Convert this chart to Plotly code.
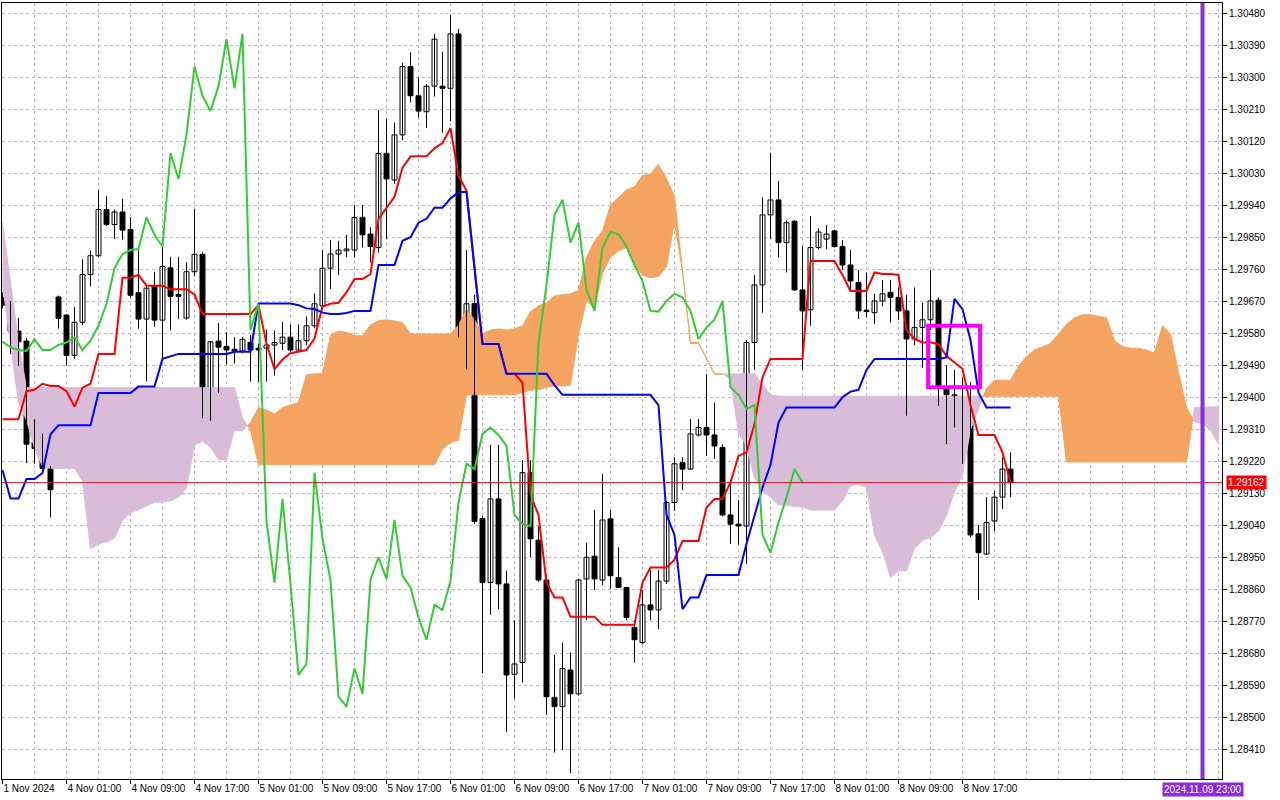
"""
GBPUSD H1, 1-8 Nov 2024 with Ichimoku Kinko Hyo (9, 26, 52), MT5 style.
"""
import plotly.graph_objects as go

# candles, bar 0 = 1 Nov 17:00 ... bar 126 = 8 Nov 23:00
opens = [1.29683, 1.29663, 1.29588, 1.29560, 1.29276, 1.29258, 1.29202, 1.29684, 1.29633, 1.29520,
         1.29613, 1.29747, 1.29800, 1.29930, 1.29888, 1.29923, 1.29874, 1.29696, 1.29622, 1.29714,
         1.29619, 1.29766, 1.29691, 1.29625, 1.29755, 1.29804, 1.29409, 1.29560, 1.29545, 1.29537,
         1.29532, 1.29556, 1.29540, 1.29540, 1.29549, 1.29554, 1.29571, 1.29535, 1.29561, 1.29603,
         1.29659, 1.29765, 1.29805, 1.29814, 1.29816, 1.29908, 1.29861, 1.29823, 1.30088, 1.30013,
         1.30140, 1.30332, 1.30250, 1.30205, 1.30277, 1.30277, 1.30271, 1.30424, 1.29598, 1.29666,
         1.29061, 1.28881, 1.29116, 1.28877, 1.28623, 1.28656, 1.29190, 1.29000, 1.28888, 1.28558,
         1.28532, 1.28635, 1.28568, 1.28891, 1.28955, 1.28888, 1.29060, 1.28895, 1.28867, 1.28755,
         1.28712, 1.28818, 1.28804, 1.28885, 1.29106, 1.29218, 1.29200, 1.29296, 1.29317, 1.29296,
         1.29261, 1.29071, 1.29045, 1.29040, 1.29556, 1.29718, 1.29915, 1.29957, 1.29837, 1.29897,
         1.29704, 1.29648, 1.29823, 1.29847, 1.29870, 1.29826, 1.29774, 1.29725, 1.29647, 1.29640,
         1.29673, 1.29697, 1.29683, 1.29645, 1.29566, 1.29598, 1.29620, 1.29675, 1.29430, 1.29409,
         1.29369, 1.29378, 1.29018, 1.28961, 1.29054, 1.29121, 1.29200]
highs = [1.29697, 1.29673, 1.29625, 1.29569, 1.29340, 1.29300, 1.29209, 1.29688, 1.29636, 1.29656,
         1.29790, 1.29815, 1.29985, 1.29968, 1.29930, 1.29960, 1.29909, 1.29815, 1.29714, 1.29755,
         1.29824, 1.29797, 1.29797, 1.29782, 1.29931, 1.29809, 1.29560, 1.29611, 1.29585, 1.29571,
         1.29571, 1.29577, 1.29553, 1.29592, 1.29589, 1.29614, 1.29607, 1.29607, 1.29629, 1.29694,
         1.29816, 1.29844, 1.29842, 1.29859, 1.29943, 1.29943, 1.29880, 1.30210, 1.30185, 1.30175,
         1.30343, 1.30372, 1.30302, 1.30283, 1.30424, 1.30374, 1.30477, 1.30438, 1.29816, 1.29690,
         1.29067, 1.29268, 1.29268, 1.28914, 1.28775, 1.29225, 1.29225, 1.29040, 1.28902, 1.28677,
         1.28712, 1.28684, 1.28892, 1.28993, 1.29085, 1.29186, 1.29085, 1.28980, 1.28869, 1.28775,
         1.28860, 1.28916, 1.28916, 1.29110, 1.29233, 1.29233, 1.29341, 1.29341, 1.29468, 1.29387,
         1.29270, 1.29170, 1.29113, 1.29563, 1.29746, 1.29964, 1.30090, 1.30010, 1.29900, 1.29900,
         1.29828, 1.29912, 1.29877, 1.29887, 1.29873, 1.29844, 1.29816, 1.29760, 1.29753, 1.29693,
         1.29732, 1.29732, 1.29711, 1.29690, 1.29711, 1.29668, 1.29760, 1.29683, 1.29493, 1.29479,
         1.29458, 1.29445, 1.29043, 1.29121, 1.29139, 1.29233, 1.29247]
lows = [1.29652, 1.29524, 1.29490, 1.29217, 1.29215, 1.29187, 1.29064, 1.29595, 1.29491, 1.29510,
        1.29605, 1.29714, 1.29796, 1.29884, 1.29847, 1.29845, 1.29683, 1.29595, 1.29447, 1.29600,
        1.29510, 1.29590, 1.29622, 1.29620, 1.29742, 1.29343, 1.29336, 1.29414, 1.29494, 1.29497,
        1.29526, 1.29446, 1.29445, 1.29446, 1.29463, 1.29535, 1.29530, 1.29530, 1.29549, 1.29596,
        1.29648, 1.29707, 1.29746, 1.29796, 1.29795, 1.29823, 1.29781, 1.29809, 1.29847, 1.30002,
        1.30125, 1.30231, 1.30189, 1.30159, 1.30248, 1.30146, 1.30178, 1.29571, 1.29481, 1.29045,
        1.28626, 1.28790, 1.28806, 1.28460, 1.28554, 1.28600, 1.28952, 1.28883, 1.28509, 1.28403,
        1.28410, 1.28345, 1.28563, 1.28775, 1.28860, 1.28874, 1.28863, 1.28865, 1.28775, 1.28656,
        1.28707, 1.28775, 1.28750, 1.28877, 1.29082, 1.29141, 1.29198, 1.29292, 1.29237, 1.29229,
        1.29067, 1.28990, 1.28987, 1.28933, 1.29479, 1.29640, 1.29847, 1.29795, 1.29753, 1.29702,
        1.29479, 1.29603, 1.29818, 1.29818, 1.29823, 1.29760, 1.29704, 1.29622, 1.29627, 1.29608,
        1.29658, 1.29612, 1.29620, 1.29350, 1.29549, 1.29485, 1.29591, 1.29378, 1.29270, 1.29317,
        1.29215, 1.29008, 1.28832, 1.28959, 1.29026, 1.29088, 1.29121]
closes = [1.29661, 1.29588, 1.29558, 1.29270, 1.29258, 1.29202, 1.29142, 1.29624, 1.29520, 1.29613,
          1.29747, 1.29800, 1.29930, 1.29888, 1.29923, 1.29872, 1.29689, 1.29622, 1.29709, 1.29619,
          1.29770, 1.29686, 1.29686, 1.29755, 1.29804, 1.29409, 1.29558, 1.29543, 1.29535, 1.29532,
          1.29565, 1.29535, 1.29535, 1.29549, 1.29556, 1.29571, 1.29535, 1.29561, 1.29603, 1.29665,
          1.29765, 1.29805, 1.29816, 1.29819, 1.29908, 1.29859, 1.29826, 1.30088, 1.30016, 1.30140,
          1.30332, 1.30250, 1.30207, 1.30277, 1.30409, 1.30271, 1.30424, 1.29591, 1.29665, 1.29053,
          1.28881, 1.29116, 1.28877, 1.28621, 1.28652, 1.29190, 1.29004, 1.28888, 1.28560, 1.28532,
          1.28639, 1.28568, 1.28888, 1.28952, 1.28891, 1.29057, 1.28900, 1.28867, 1.28783, 1.28720,
          1.28818, 1.28804, 1.28885, 1.29106, 1.29215, 1.29200, 1.29299, 1.29317, 1.29296, 1.29265,
          1.29071, 1.29045, 1.29040, 1.29556, 1.29718, 1.29915, 1.29957, 1.29837, 1.29893, 1.29704,
          1.29645, 1.29823, 1.29867, 1.29861, 1.29826, 1.29774, 1.29729, 1.29645, 1.29643, 1.29673,
          1.29693, 1.29683, 1.29645, 1.29566, 1.29598, 1.29620, 1.29673, 1.29430, 1.29409, 1.29369,
          1.29380, 1.29015, 1.28965, 1.29050, 1.29121, 1.29200, 1.29162]

tenkan = [1.29340, 1.29340, 1.29340, 1.29419, 1.29423, 1.29440, 1.29434, 1.29434, 1.29419, 1.29376,
          1.29429, 1.29440, 1.29524, 1.29524, 1.29524, 1.29738, 1.29739, 1.29746, 1.29716, 1.29716,
          1.29716, 1.29706, 1.29706, 1.29706, 1.29691, 1.29636, 1.29636, 1.29636, 1.29636, 1.29636,
          1.29636, 1.29636, 1.29661, 1.29553, 1.29481, 1.29508, 1.29526, 1.29530, 1.29535, 1.29567,
          1.29657, 1.29665, 1.29668, 1.29697, 1.29735, 1.29735, 1.29748, 1.29904, 1.29934, 1.29966,
          1.30048, 1.30079, 1.30080, 1.30080, 1.30102, 1.30117, 1.30159, 1.30026, 1.29983, 1.29760,
          1.29552, 1.29552, 1.29552, 1.29468, 1.29468, 1.29443, 1.29127, 1.29071, 1.28881, 1.28839,
          1.28839, 1.28785, 1.28785, 1.28785, 1.28785, 1.28762, 1.28762, 1.28762, 1.28762, 1.28762,
          1.28881, 1.28923, 1.28923, 1.28923, 1.28945, 1.28998, 1.28998, 1.28998, 1.29092, 1.29116,
          1.29116, 1.29162, 1.29237, 1.29247, 1.29327, 1.29458, 1.29510, 1.29510, 1.29510, 1.29510,
          1.29510, 1.29785, 1.29785, 1.29785, 1.29785, 1.29746, 1.29701, 1.29701, 1.29701, 1.29753,
          1.29749, 1.29749, 1.29746, 1.29591, 1.29566, 1.29556, 1.29556, 1.29552, 1.29518, 1.29500,
          1.29482, 1.29380, 1.29296, 1.29296, 1.29296, 1.29247, 1.29162]
kijun = [1.29197, 1.29117, 1.29117, 1.29172, 1.29172, 1.29189, 1.29298, 1.29323, 1.29323, 1.29323,
         1.29323, 1.29323, 1.29414, 1.29414, 1.29414, 1.29414, 1.29414, 1.29432, 1.29432, 1.29432,
         1.29510, 1.29518, 1.29524, 1.29524, 1.29524, 1.29524, 1.29524, 1.29524, 1.29524, 1.29530,
         1.29530, 1.29530, 1.29666, 1.29666, 1.29666, 1.29666, 1.29666, 1.29661, 1.29652, 1.29650,
         1.29640, 1.29636, 1.29636, 1.29639, 1.29645, 1.29645, 1.29645, 1.29774, 1.29774, 1.29774,
         1.29842, 1.29852, 1.29893, 1.29904, 1.29935, 1.29935, 1.29961, 1.29979, 1.29979, 1.29760,
         1.29552, 1.29552, 1.29552, 1.29468, 1.29468, 1.29468, 1.29468, 1.29468, 1.29468, 1.29436,
         1.29409, 1.29409, 1.29409, 1.29409, 1.29409, 1.29409, 1.29409, 1.29409, 1.29409, 1.29409,
         1.29409, 1.29409, 1.29380, 1.29071, 1.29015, 1.28806, 1.28839, 1.28839, 1.28902, 1.28902,
         1.28902, 1.28902, 1.28902, 1.28990, 1.29071, 1.29148, 1.29212, 1.29331, 1.29373, 1.29373,
         1.29373, 1.29373, 1.29373, 1.29373, 1.29373, 1.29402, 1.29418, 1.29423, 1.29479, 1.29510,
         1.29510, 1.29510, 1.29510, 1.29510, 1.29510, 1.29510, 1.29510, 1.29510, 1.29514, 1.29679,
         1.29650, 1.29563, 1.29415, 1.29373, 1.29373, 1.29373, 1.29373]

# senkou spans as drawn (already 26 bars ahead), bars 0..152
span_a = [1.29720, 1.29553, 1.29386, 1.29338, 1.29258, 1.29207, 1.29202, 1.29202, 1.29202, 1.29202,
          1.29167, 1.28975, 1.28990, 1.28995, 1.29006, 1.29056, 1.29076, 1.29086, 1.29097, 1.29107,
          1.29107, 1.29111, 1.29121, 1.29146, 1.29268, 1.29278, 1.29262, 1.29227, 1.29227, 1.29310,
          1.29308, 1.29331, 1.29373, 1.29366, 1.29355, 1.29373, 1.29380, 1.29387, 1.29465, 1.29468,
          1.29468, 1.29577, 1.29588, 1.29585, 1.29575, 1.29575, 1.29605, 1.29617, 1.29620, 1.29617,
          1.29612, 1.29580, 1.29580, 1.29580, 1.29580, 1.29580, 1.29580, 1.29605, 1.29648, 1.29620,
          1.29580, 1.29591, 1.29594, 1.29591, 1.29594, 1.29603, 1.29643, 1.29659, 1.29668, 1.29687,
          1.29690, 1.29693, 1.29702, 1.29796, 1.29841, 1.29870, 1.29943, 1.29964, 1.29985, 1.29994,
          1.30026, 1.30030, 1.30057, 1.30017, 1.29967, 1.29760, 1.29556, 1.29556, 1.29513, 1.29468,
          1.29468, 1.29454, 1.29301, 1.29265, 1.29175, 1.29139, 1.29121, 1.29099, 1.29099, 1.29094,
          1.29094, 1.29085, 1.29085, 1.29085, 1.29085, 1.29112, 1.29153, 1.29157, 1.29148, 1.29013,
          1.28968, 1.28896, 1.28914, 1.28914, 1.28977, 1.29000, 1.29008, 1.29026, 1.29071, 1.29135,
          1.29184, 1.29310, 1.29373, 1.29427, 1.29450, 1.29450, 1.29450, 1.29490, 1.29517, 1.29535,
          1.29544, 1.29553, 1.29580, 1.29607, 1.29625, 1.29634, 1.29634, 1.29630, 1.29625, 1.29562,
          1.29544, 1.29540, 1.29540, 1.29535, 1.29526, 1.29603, 1.29580, 1.29472, 1.29373, 1.29333,
          1.29328, 1.29310, 1.29270]
span_b = [1.29892, 1.29726, 1.29559, 1.29429, 1.29429, 1.29429, 1.29429, 1.29429, 1.29429, 1.29429,
          1.29429, 1.29429, 1.29429, 1.29429, 1.29429, 1.29429, 1.29429, 1.29429, 1.29429, 1.29429,
          1.29429, 1.29429, 1.29429, 1.29429, 1.29429, 1.29429, 1.29429, 1.29429, 1.29429, 1.29429,
          1.29343, 1.29310, 1.29212, 1.29212, 1.29212, 1.29212, 1.29212, 1.29212, 1.29212, 1.29212,
          1.29212, 1.29212, 1.29212, 1.29212, 1.29212, 1.29212, 1.29212, 1.29212, 1.29212, 1.29212,
          1.29212, 1.29212, 1.29212, 1.29212, 1.29212, 1.29256, 1.29275, 1.29282, 1.29409, 1.29409,
          1.29409, 1.29409, 1.29409, 1.29409, 1.29409, 1.29416, 1.29422, 1.29423, 1.29430, 1.29434,
          1.29434, 1.29436, 1.29580, 1.29675, 1.29652, 1.29751, 1.29796, 1.29814, 1.29823, 1.29774,
          1.29746, 1.29738, 1.29742, 1.29769, 1.29895, 1.29756, 1.29553, 1.29553, 1.29510, 1.29467,
          1.29467, 1.29468, 1.29468, 1.29468, 1.29468, 1.29440, 1.29409, 1.29405, 1.29405, 1.29405,
          1.29405, 1.29405, 1.29405, 1.29405, 1.29405, 1.29405, 1.29405, 1.29405, 1.29405, 1.29405,
          1.29405, 1.29405, 1.29405, 1.29405, 1.29405, 1.29405, 1.29405, 1.29405, 1.29405, 1.29405,
          1.29405, 1.29405, 1.29405, 1.29405, 1.29405, 1.29405, 1.29405, 1.29405, 1.29405, 1.29405,
          1.29405, 1.29405, 1.29405, 1.29220, 1.29220, 1.29220, 1.29220, 1.29220, 1.29220, 1.29220,
          1.29220, 1.29220, 1.29220, 1.29220, 1.29220, 1.29220, 1.29220, 1.29220, 1.29220, 1.29373,
          1.29373, 1.29375, 1.29375]

time_labels = ["1 Nov 2024", "4 Nov 01:00", "4 Nov 09:00", "4 Nov 17:00", "5 Nov 01:00",
               "5 Nov 09:00", "5 Nov 17:00", "6 Nov 01:00", "6 Nov 09:00", "6 Nov 17:00",
               "7 Nov 01:00", "7 Nov 09:00", "7 Nov 17:00", "8 Nov 01:00", "8 Nov 09:00",
               "8 Nov 17:00"]
price_labels = ["1.28410", "1.28500", "1.28590", "1.28680", "1.28770", "1.28860", "1.28950",
                "1.29040", "1.29130", "1.29220", "1.29310", "1.29400", "1.29490", "1.29580",
                "1.29670", "1.29760", "1.29850", "1.29940", "1.30030", "1.30120", "1.30210",
                "1.30300", "1.30390", "1.30480"]
last_price = 1.29162
vline_bar = 150
vline_label = "2024.11.09 23:00"
box_bars = (115.7, 122.2)
box_prices = (1.29430, 1.29603)

SHIFT = 26
ORANGE = "#F4A460"
THISTLE = "#D8BCD8"
GRID = "#C2B6C2"


def cloud_runs(a, b):
    """Split the cloud into runs where span A stays above / below span B."""
    runs = []
    up = a[0] >= b[0]
    pts = [(0, a[0], b[0])]
    for k in range(1, len(a)):
        d0 = a[k - 1] - b[k - 1]
        d1 = a[k] - b[k]
        now_up = (d1 > 0) if d1 != 0 else up
        if now_up != up:
            t = d0 / (d0 - d1)
            xc = k - 1 + t
            yc = a[k - 1] + t * (a[k] - a[k - 1])
            pts.append((xc, yc, yc))
            runs.append((up, pts))
            pts = [(xc, yc, yc)]
            up = now_up
        pts.append((k, a[k], b[k]))
    runs.append((up, pts))
    return runs


fig = go.Figure()

# kumo
runs = cloud_runs(span_a, span_b)
for bull, color in [(True, ORANGE), (False, THISTLE)]:
    xs, ys = [], []
    for is_bull, pts in runs:
        if is_bull != bull:
            continue
        xs += [p[0] for p in pts] + [p[0] for p in reversed(pts)] + [None]
        ys += [p[1] for p in pts] + [p[2] for p in reversed(pts)] + [None]
    fig.add_trace(go.Scatter(x=xs, y=ys, mode="lines", fill="toself", fillcolor=color,
                             line=dict(color=color, width=1), hoverinfo="skip"))

# candles: wicks first, then bodies
bars = list(range(len(closes)))
wx, wy = [], []
for i in bars:
    wx += [i, i, None]
    wy += [lows[i], highs[i], None]
fig.add_trace(go.Scatter(x=wx, y=wy, mode="lines", line=dict(color="black", width=1),
                         hoverinfo="skip"))

for bull, fill in [(True, "white"), (False, "black")]:
    idx = [i for i in bars if (closes[i] >= opens[i]) == bull]
    fig.add_trace(go.Bar(
        x=idx,
        base=[min(opens[i], closes[i]) for i in idx],
        y=[max(abs(closes[i] - opens[i]), 0.00003) for i in idx],
        width=0.62,
        marker=dict(color=fill, line=dict(color="black", width=1)),
        hoverinfo="skip",
    ))

# tenkan, kijun, chikou
fig.add_trace(go.Scatter(x=bars, y=tenkan, mode="lines", line=dict(color="#FF0000", width=2)))
fig.add_trace(go.Scatter(x=bars, y=kijun, mode="lines", line=dict(color="#0000FF", width=2)))
fig.add_trace(go.Scatter(x=bars[:len(closes) - SHIFT], y=closes[SHIFT:], mode="lines",
                         line=dict(color="#32CD32", width=2)))

# current price line, vertical line object, rectangle object
fig.add_hline(y=last_price, line=dict(color="#FF0000", width=1))
fig.add_vline(x=vline_bar, line=dict(color="#8A2BE2", width=4))
fig.add_shape(type="rect", x0=box_bars[0], x1=box_bars[1], y0=box_prices[0], y1=box_prices[1],
              line=dict(color="#FF00FF", width=4))

fig.add_annotation(x=1, xref="paper", y=last_price, yref="y", xanchor="left", xshift=4,
                   text=f"{last_price:.5f}", showarrow=False, bgcolor="#FF0000",
                   font=dict(color="white", size=10), borderpad=1)
fig.add_annotation(x=vline_bar, xref="x", y=0, yref="paper", yanchor="top", yshift=-3,
                   text=vline_label, showarrow=False, bgcolor="#8A2BE2",
                   font=dict(color="white", size=10), borderpad=1)

price_vals = [float(s) for s in price_labels]
n_total = len(span_a)

fig.update_layout(
    width=1280, height=800,
    margin=dict(l=2, r=58, t=3, b=21),
    paper_bgcolor="white", plot_bgcolor="white",
    showlegend=False, barmode="overlay",
    font=dict(family="Liberation Sans, Arial, sans-serif", size=10, color="black"),
    xaxis=dict(
        range=[-0.0625, 152.4375],
        tickmode="array",
        tickvals=list(range(0, 8 * len(time_labels), 8)),
        ticktext=time_labels,
        ticks="outside", ticklen=4, tickcolor="black",
        ticklabelposition="outside right",
        showgrid=False, zeroline=False,
        showline=True, linecolor="black", mirror=True,
        minor=dict(tickvals=list(range(0, n_total, 4)), showgrid=True, gridcolor=GRID,
                   griddash="3px,3px", gridwidth=1, ticks=""),
    ),
    yaxis=dict(
        side="right",
        range=[1.283284, 1.305109],
        tickmode="array",
        tickvals=price_vals,
        ticktext=price_labels,
        ticks="outside", ticklen=4, tickcolor="black",
        showgrid=True, gridcolor=GRID, griddash="3px,3px", gridwidth=1,
        zeroline=False,
        showline=True, linecolor="black", mirror=True,
    ),
)

# the page's default body margin would push the chart 8px down/right
fig.write_html("out.html", config={"displayModeBar": False},
               post_script="document.body.style.margin='0px';")
